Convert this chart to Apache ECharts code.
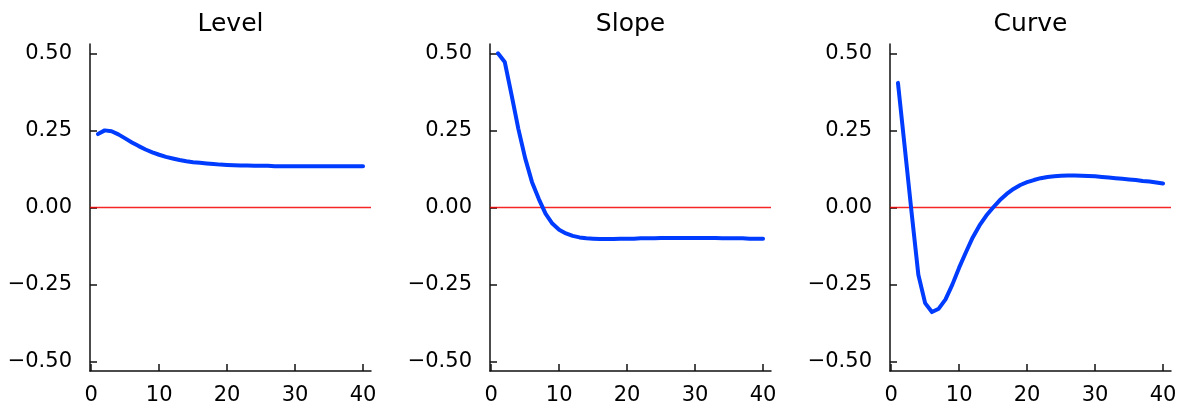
<!DOCTYPE html>
<html>
<head>
<meta charset="utf-8">
<script src="https://cdn.jsdelivr.net/npm/echarts@6/dist/echarts.min.js"></script>
<style>
html,body{margin:0;padding:0;background:#fff;}
#chart{width:1183px;height:404px;}
</style>
</head>
<body>
<div id="chart"></div>
<script>
// ---- data ----
const horizons = [1,2,3,4,5,6,7,8,9,10,11,12,13,14,15,16,17,18,19,20,21,22,23,24,25,26,27,28,29,30,31,32,33,34,35,36,37,38,39,40];
const titles = ["Level", "Slope", "Curve"];
const levelValues = [0.238,0.250,0.247,0.237,0.224,0.211,0.199,0.188,0.179,0.171,0.164,0.159,0.154,0.150,0.147,0.145,0.143,0.141,0.139,0.138,0.137,0.136,0.136,0.135,0.135,0.135,0.134,0.134,0.134,0.134,0.134,0.134,0.134,0.134,0.134,0.134,0.134,0.134,0.134,0.134];
const slopeValues = [0.500,0.472,0.365,0.255,0.160,0.083,0.028,-0.020,-0.052,-0.072,-0.084,-0.092,-0.097,-0.100,-0.101,-0.102,-0.102,-0.102,-0.101,-0.101,-0.101,-0.100,-0.100,-0.100,-0.099,-0.099,-0.099,-0.099,-0.099,-0.099,-0.099,-0.099,-0.099,-0.100,-0.100,-0.100,-0.100,-0.101,-0.101,-0.101];
const curveValues = [0.404,0.195,-0.015,-0.218,-0.310,-0.339,-0.328,-0.298,-0.250,-0.195,-0.145,-0.097,-0.058,-0.026,0.000,0.024,0.044,0.060,0.073,0.082,0.089,0.095,0.099,0.101,0.103,0.104,0.104,0.103,0.102,0.101,0.099,0.097,0.095,0.093,0.091,0.089,0.086,0.084,0.081,0.078];
const xTickValues = [0,10,20,30,40];
const xTickLabels = ["0","10","20","30","40"];
const yTickValues = [-0.5,-0.25,0,0.25,0.5];
const yTickLabels = ["\u22120.50","\u22120.25","0.00","0.25","0.50"];
const xRange = [-0.17, 41.17];
const yRange = [-0.53, 0.53];
const zeroLevel = 0;

// ---- layout ----
const seriesList = [levelValues, slopeValues, curveValues];
const gridLefts = [90, 490, 890];
const gridTop = 44, gridW = 281, gridH = 327;
const FONT = "DejaVu Sans";
const lineColor = "#003cff";

const grids = [], xAxes = [], yAxes = [], series = [], titleOpts = [];
seriesList.forEach((vals, i) => {
  grids.push({left: gridLefts[i], top: gridTop, width: gridW, height: gridH, containLabel: false, outerBoundsMode: 'none'});
  titleOpts.push({
    text: titles[i], left: gridLefts[i] + gridW / 2, top: 12, padding: 0,
    textAlign: 'center',
    textStyle: {fontFamily: FONT, fontSize: 25, fontWeight: 'normal', color: '#000'}
  });
  xAxes.push({
    type: 'value', gridIndex: i, min: xRange[0], max: xRange[1],
    axisLine: {show: true, onZero: false, lineStyle: {color: '#111', width: 1.5}},
    axisTick: {show: true, inside: true, length: 7, customValues: xTickValues, lineStyle: {color: '#111', width: 1.5}},
    axisLabel: {
      show: true, margin: 14, customValues: xTickValues,
      fontFamily: FONT, fontSize: 21, color: '#000',
      formatter: v => xTickLabels[xTickValues.indexOf(v)] ?? ''
    },
    splitLine: {show: false}
  });
  yAxes.push({
    type: 'value', gridIndex: i, min: yRange[0], max: yRange[1],
    axisLine: {show: true, onZero: false, lineStyle: {color: '#111', width: 1.5}},
    axisTick: {show: true, inside: true, length: 7, customValues: yTickValues, lineStyle: {color: '#111', width: 1.5}},
    axisLabel: {
      show: true, margin: 18, customValues: yTickValues,
      fontFamily: FONT, fontSize: 21, color: '#000',
      formatter: v => {
        const k = yTickValues.findIndex(t => Math.abs(t - v) < 1e-9);
        return k >= 0 ? yTickLabels[k] : '';
      }
    },
    splitLine: {show: false}
  });
  // zero reference line
  series.push({
    type: 'line', xAxisIndex: i, yAxisIndex: i,
    data: [[xRange[0], zeroLevel], [xRange[1], zeroLevel]],
    showSymbol: false, symbol: 'none', silent: true,
    lineStyle: {color: 'rgba(245,0,0,0.85)', width: 1.3},
    z: 2
  });
  series.push({
    type: 'line', xAxisIndex: i, yAxisIndex: i,
    data: horizons.map((h, j) => [h, vals[j]]),
    showSymbol: false, symbol: 'none', smooth: false,
    lineStyle: {color: lineColor, width: 4, cap: 'round', join: 'round'},
    z: 3
  });
});

const chart = echarts.init(document.getElementById('chart'), null, {renderer: 'canvas'});
chart.setOption({
  animation: false,
  backgroundColor: '#ffffff',
  title: titleOpts,
  grid: grids,
  xAxis: xAxes,
  yAxis: yAxes,
  series: series
});
</script>
</body>
</html>
